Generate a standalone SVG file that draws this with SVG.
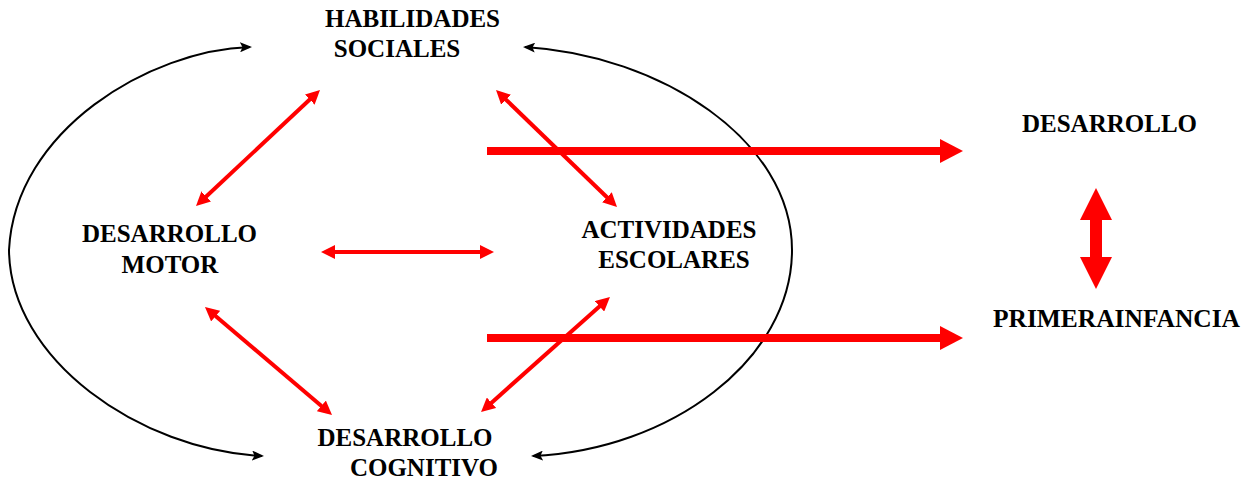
<svg xmlns="http://www.w3.org/2000/svg" width="1249" height="481" viewBox="0 0 1249 481">
<style>
text{font-family:"Liberation Serif","Times New Roman",serif;font-weight:bold;font-size:25px;fill:#000;text-anchor:middle}
.red{stroke:#ff0000;stroke-width:4;fill:none}
.thick{stroke:#ff0000;stroke-width:8;fill:none}
.blk{stroke:#000;stroke-width:2;fill:none}
</style>
<defs>
<marker id="rh" markerUnits="userSpaceOnUse" markerWidth="14" markerHeight="14" refX="4" refY="7" orient="auto-start-reverse" viewBox="0 0 14 14">
<path d="M0,0 L14,7 L0,14 z" fill="#ff0000"/>
</marker>
<marker id="th" markerUnits="userSpaceOnUse" markerWidth="23" markerHeight="24" refX="2" refY="12" orient="auto" viewBox="0 0 23 24">
<path d="M0,0 L23,12 L0,24 z" fill="#ff0000"/>
</marker>
<marker id="bh" markerUnits="userSpaceOnUse" markerWidth="12" markerHeight="10" refX="10" refY="5" orient="auto-start-reverse" viewBox="0 0 12 10">
<path d="M0,0 L12,5 L0,10 L2.5,5 z" fill="#000"/>
</marker>
</defs>
<rect width="1249" height="481" fill="#fff"/>
<g id="connectors">
<path class="blk" d="M250,47 C150,50 15,130 9,250 C10,360 140,450 262,456" marker-start="url(#bh)" marker-end="url(#bh)"/>
<path class="blk" d="M525,47 C660,55 792,140 792,250 C792,360 670,450 533,456" marker-start="url(#bh)" marker-end="url(#bh)"/>
<line class="red" x1="312.7" y1="96.8" x2="203.3" y2="199.2" marker-start="url(#rh)" marker-end="url(#rh)"/>
<line class="red" x1="503.2" y1="97" x2="609.8" y2="200" marker-start="url(#rh)" marker-end="url(#rh)"/>
<line class="red" x1="331" y1="252" x2="484" y2="252" marker-start="url(#rh)" marker-end="url(#rh)"/>
<line class="red" x1="212.6" y1="313.5" x2="324.4" y2="408.5" marker-start="url(#rh)" marker-end="url(#rh)"/>
<line class="red" x1="602.5" y1="303.7" x2="488.5" y2="405.4" marker-start="url(#rh)" marker-end="url(#rh)"/>
<line class="thick" x1="487" y1="151" x2="942" y2="151" marker-end="url(#th)"/>
<line class="thick" x1="487" y1="338" x2="942" y2="338" marker-end="url(#th)"/>
<polygon fill="#ff0000" points="1096,188 1112,220 1102,220 1102,257 1112,257 1096,289 1080,257 1090,257 1090,220 1080,220"/>
</g>
<g id="habilidades-sociales">
<text x="412.5" y="27">HABILIDADES</text>
<text x="397" y="57">SOCIALES</text>
</g>
<g id="desarrollo-motor">
<text x="169.5" y="242">DESARROLLO</text>
<text x="170" y="273">MOTOR</text>
</g>
<g id="actividades-escolares">
<text x="669" y="238">ACTIVIDADES</text>
<text x="674" y="268">ESCOLARES</text>
</g>
<g id="desarrollo-cognitivo">
<text x="405" y="446">DESARROLLO</text>
<text x="424" y="476">COGNITIVO</text>
</g>
<g id="desarrollo">
<text x="1109.5" y="132">DESARROLLO</text>
</g>
<g id="primera-infancia">
<text x="1116.5" y="327" textLength="247" lengthAdjust="spacingAndGlyphs">PRIMERAINFANCIA</text>
</g>
</svg>
